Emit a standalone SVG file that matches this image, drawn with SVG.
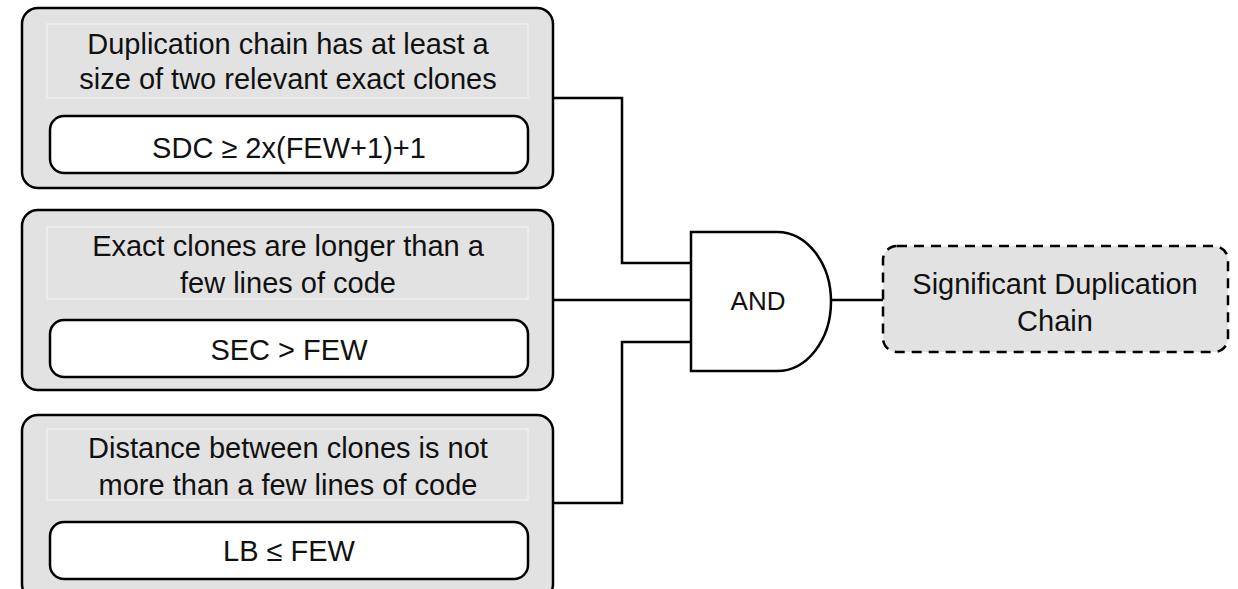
<svg xmlns="http://www.w3.org/2000/svg" width="1238" height="589" viewBox="0 0 1238 589">
  <style>
    .card { fill: #e2e2e2; stroke: #000; stroke-width: 2.5; }
    .head { fill: #e2e2e2; stroke: #ececec; stroke-width: 2; }
    .expr { fill: #fff; stroke: #000; stroke-width: 2.5; }
    .goal { fill: #e2e2e2; stroke: #000; stroke-width: 2.5; stroke-dasharray: 10 7; }
    .gate { fill: #fff; stroke: #000; stroke-width: 2.5; }
    .wire { fill: none; stroke: #000; stroke-width: 2.5; }
    text { font-family: "Liberation Sans", Arial, sans-serif; font-size: 29px; fill: #111; text-anchor: middle; }
    .gate-label { font-size: 26px; }
  </style>

  <!-- connectors into the AND gate and out to the result -->
  <g id="connectors">
    <path class="wire" d="M553,98 H622 V263 H691"/>
    <path class="wire" d="M553,300 H691"/>
    <path class="wire" d="M553,503 H622 V342 H691"/>
    <path class="wire" d="M831,300 H883"/>
  </g>

  <g id="cond-size">
    <rect class="card" x="22" y="8" width="531" height="180" rx="16"/>
    <rect class="head" x="47" y="24" width="481" height="74"/>
    <text x="288" y="54">Duplication chain has at least a</text>
    <text x="288" y="89">size of two relevant exact clones</text>
    <rect class="expr" x="50" y="116" width="478" height="57" rx="14"/>
    <text x="289" y="158">SDC ≥ 2x(FEW+1)+1</text>
  </g>

  <g id="cond-length">
    <rect class="card" x="22" y="210" width="531" height="180" rx="16"/>
    <rect class="head" x="47" y="227" width="481" height="72"/>
    <text x="288" y="256">Exact clones are longer than a</text>
    <text x="288" y="293">few lines of code</text>
    <rect class="expr" x="50" y="320" width="478" height="57" rx="14"/>
    <text x="289" y="360">SEC &gt; FEW</text>
  </g>

  <g id="cond-distance">
    <rect class="card" x="22" y="415" width="531" height="185" rx="16"/>
    <rect class="head" x="47" y="429" width="481" height="71"/>
    <text x="288" y="458">Distance between clones is not</text>
    <text x="288" y="495">more than a few lines of code</text>
    <rect class="expr" x="50" y="522" width="478" height="57" rx="14"/>
    <text x="289" y="561">LB ≤ FEW</text>
  </g>

  <g id="and-gate">
    <path class="gate" d="M691,232 H777 A54,69.5 0 0 1 777,371 H691 Z"/>
    <text class="gate-label" x="758" y="310">AND</text>
  </g>

  <g id="result">
    <rect class="goal" x="883" y="246" width="345" height="106" rx="14"/>
    <text x="1055" y="294">Significant Duplication</text>
    <text x="1055" y="331">Chain</text>
  </g>
</svg>
